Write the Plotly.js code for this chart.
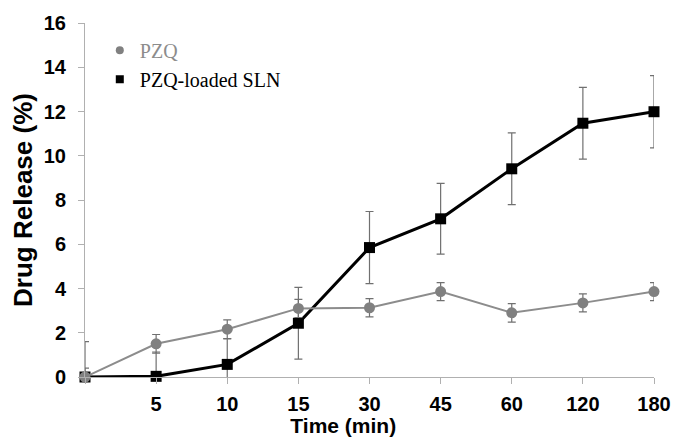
<!DOCTYPE html>
<html>
<head>
<meta charset="utf-8">
<script src="https://cdn.plot.ly/plotly-3.0.1.min.js"></script>
<style>html,body{margin:0;padding:0;background:#fff}#chart{width:675px;height:437px}</style>
</head>
<body>
<div id="chart"></div>
<script>
// Time points (min) as categories; the first (0) is unlabelled on the axis
var timeLabels = ["0", "5", "10", "15", "30", "45", "60", "120", "180"];
var tickLabels = ["", "5", "10", "15", "30", "45", "60", "120", "180"];
var pzqRelease = [0, 1.5, 2.16, 3.1, 3.13, 3.86, 2.9, 3.35, 3.86];
var pzqError   = [0.4, 0.42, 0.42, 0.41, 0.41, 0.41, 0.42, 0.41, 0.41];
var slnRelease = [0, 0.03, 0.57, 2.43, 5.85, 7.15, 9.41, 11.47, 11.99];
var slnError   = [1.6, 1.1, 1.15, 1.62, 1.63, 1.6, 1.62, 1.62, 1.63];
var yTicks = [0, 2, 4, 6, 8, 10, 12, 14, 16];

var idx = timeLabels.map(function (_, i) { return i; });

var traces = [
  {
    x: idx, y: slnRelease, name: 'PZQ-loaded SLN', showlegend: false,
    type: 'scatter', mode: 'lines+markers', cliponaxis: false,
    line: {color: '#000000', width: 3},
    marker: {symbol: 'square', size: 11, color: '#000000'},
    error_y: {type: 'data', array: slnError, visible: true, color: '#707070', thickness: 1.2, width: 4}
  },
  {
    x: idx, y: pzqRelease, name: 'PZQ', showlegend: false,
    type: 'scatter', mode: 'lines+markers', cliponaxis: false,
    line: {color: '#8c8c8c', width: 2},
    marker: {symbol: 'circle', size: 11, color: '#808080'},
    error_y: {type: 'data', array: pzqError, visible: true, color: '#707070', thickness: 1.2, width: 4}
  },
  // legend entries (marker only, as in the reference)
  {
    x: [null], y: [null], name: '<span style="color:#8c8c8c">PZQ</span>',
    type: 'scatter', mode: 'markers', legendrank: 1,
    marker: {symbol: 'circle', size: 8, color: '#808080'}
  },
  {
    x: [null], y: [null], name: 'PZQ-loaded SLN',
    type: 'scatter', mode: 'markers', legendrank: 2,
    marker: {symbol: 'square', size: 8, color: '#000000'}
  }
];

var tickFont = {family: '"Liberation Sans", Arial, sans-serif', size: 20, color: '#000', weight: 'bold'};

var layout = {
  width: 675, height: 437,
  margin: {l: 85, r: 21, t: 23, b: 60, pad: 0},
  paper_bgcolor: '#ffffff', plot_bgcolor: '#ffffff',
  showlegend: true,
  legend: {
    x: 0.026, xanchor: 'left', y: 0.978, yanchor: 'top',
    bgcolor: 'rgba(0,0,0,0)', borderwidth: 0,
    font: {family: '"Liberation Serif", "Times New Roman", serif', size: 20, color: '#000'},
    itemsizing: 'trace', tracegroupgap: 0
  },
  xaxis: {
    range: [0, 8], tickmode: 'array', tickvals: idx, ticktext: tickLabels,
    showgrid: false, zeroline: false, showline: true, linecolor: '#b0b0b0', linewidth: 1,
    ticks: 'outside', ticklen: 6, tickcolor: '#b0b0b0', tickwidth: 1,
    ticklabelstandoff: 3,
    tickfont: tickFont,
    title: {text: '<b>Time (min)</b>&nbsp;&nbsp;&nbsp;&nbsp;&nbsp;&nbsp;&nbsp;&nbsp;&nbsp;', standoff: 0, font: {family: '"Liberation Sans", Arial, sans-serif', size: 21, color: '#000'}},
    fixedrange: true
  },
  yaxis: {
    range: [0, 16], tickmode: 'array', tickvals: yTicks,
    showgrid: false, zeroline: false, showline: true, linecolor: '#b0b0b0', linewidth: 1,
    ticks: 'outside', ticklen: 6, tickcolor: '#b0b0b0', tickwidth: 1,
    ticklabelstandoff: 8,
    tickfont: tickFont,
    title: {text: '<b>Drug Release (%)</b>', standoff: 3, font: {family: '"Liberation Sans", Arial, sans-serif', size: 26, color: '#000'}},
    fixedrange: true
  }
};

Plotly.newPlot('chart', traces, layout, {staticPlot: true, displayModeBar: false});
</script>
</body>
</html>
